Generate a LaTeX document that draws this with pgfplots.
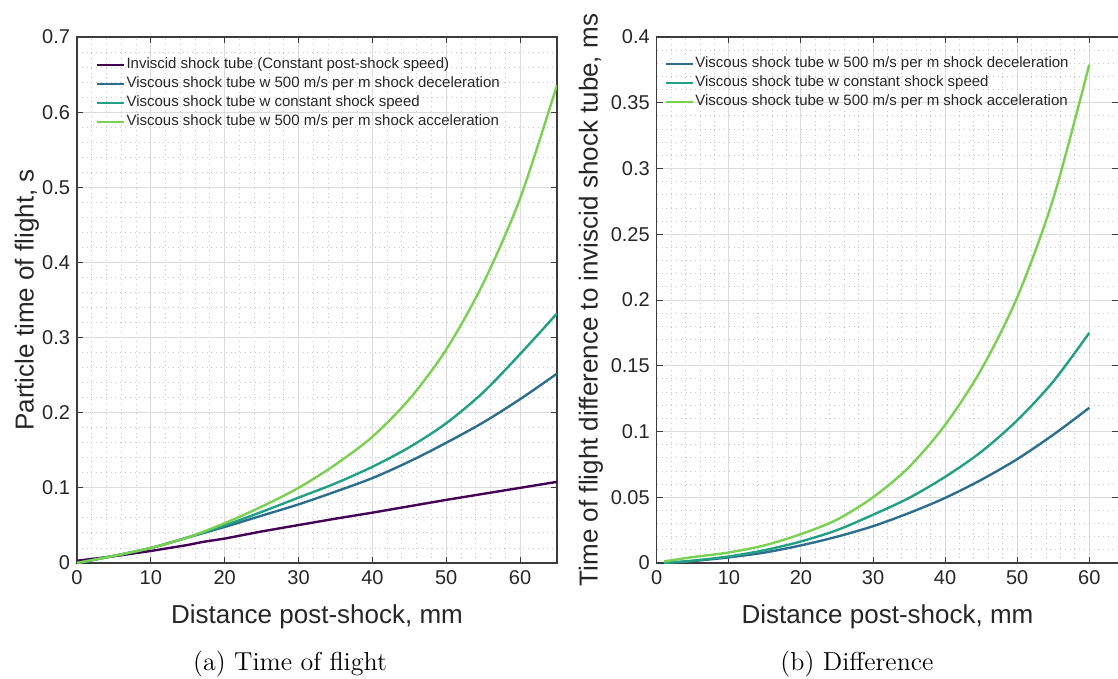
\documentclass[border=0pt]{standalone}
\usepackage{fontspec}
\setsansfont{Liberation Sans}
\usepackage{pgfplots}
\pgfplotsset{compat=1.18}
\definecolor{cInv}{RGB}{68,1,84}
\definecolor{cDec}{RGB}{44,110,142}
\definecolor{cCon}{RGB}{33,160,133}
\definecolor{cAcc}{RGB}{122,209,81}
\definecolor{axgray}{RGB}{60,60,60}
\definecolor{txtgray}{RGB}{38,38,38}
\pgfplotsset{myax/.style={
  scale only axis, ymin=0,
  tick align=inside, major tick length=3pt, minor tick length=0pt,
  grid=both,
  major grid style={draw=black!14, line width=0.5pt},
  minor grid style={draw=black!22, dotted, line width=0.45pt},
  minor x tick num=4, minor y tick num=4,
  axis line style={draw=axgray, line width=0.6pt},
  tick style={draw=axgray, line width=0.5pt},
  ticklabel style={font=\sffamily\fontsize{10}{12}\selectfont, text=txtgray},
  /pgf/number format/assume math mode=true,
  /pgf/number format/fixed,
  scaled ticks=false,
  label style={font=\sffamily\fontsize{13}{15}\selectfont, text=txtgray},
  xlabel style={at={(axis description cs:0.5,0)}, anchor=base, yshift=-30pt},
  legend cell align=left,
  legend style={draw=none, fill=none, inner sep=0pt, anchor=north west,
    font=\sffamily\fontsize{7.5}{9}\selectfont, text=txtgray,
    nodes={inner sep=0.75pt, text height=6pt, text depth=2pt}, row sep=0pt},
  legend image code/.code={\draw[#1] (0pt,0pt) -- (13.5pt,0pt);},
  every axis plot/.append style={line width=1.2pt},
}}
\begin{document}
\begin{tikzpicture}
\useasboundingbox (0pt,0pt) rectangle (559pt,-339.5pt);
\begin{axis}[myax, at={(38.5pt,-281.5pt)}, anchor=south west,
  width=240pt, height=263pt, xmin=0, xmax=65, ymax=0.7,
  xtick={0,10,...,60}, ytick={0,0.1,...,0.7},
  yticklabels={0,0.1,0.2,0.3,0.4,0.5,0.6,0.7},
  xlabel={Distance post-shock, mm}, ylabel={Particle time of flight, s},
  ylabel style={at={(axis description cs:0,0.5)}, anchor=center, yshift=25pt},
  legend style={at={(axis description cs:0.038,0.966)}}]
\addplot[cInv] coordinates {(0,0.003) (2.5,0.006) (5,0.009) (7.5,0.0125) (10,0.016) (12.5,0.020) (15,0.024) (17,0.028) (20,0.0325) (25,0.042) (30,0.0505) (35,0.059) (40,0.067) (45,0.0755) (50,0.084) (55,0.092) (60,0.100) (65,0.108)};
\addlegendentry{Inviscid shock tube (Constant post-shock speed)}
\addplot[cDec, smooth] coordinates {(0,0) (5,0.0095) (10,0.020) (15,0.034) (20,0.048) (25,0.063) (30,0.078) (35,0.095) (40,0.113) (45,0.135) (50,0.160) (55,0.187) (60,0.218) (65,0.252)};
\addlegendentry{Viscous shock tube w 500 m/s per m shock deceleration}
\addplot[cCon, smooth] coordinates {(0,0) (5,0.0095) (10,0.020) (15,0.034) (20,0.050) (25,0.068) (30,0.087) (35,0.106) (40,0.128) (45,0.154) (50,0.186) (55,0.227) (60,0.278) (65,0.332)};
\addlegendentry{Viscous shock tube w constant shock speed}
\addplot[cAcc, smooth] coordinates {(0,0) (5,0.0095) (10,0.020) (15,0.034) (20,0.053) (25,0.075) (30,0.100) (35,0.131) (40,0.168) (45,0.218) (50,0.284) (55,0.372) (60,0.485) (65,0.636)};
\addlegendentry{Viscous shock tube w 500 m/s per m shock acceleration}
\end{axis}
\begin{axis}[myax, at={(328.4pt,-281.5pt)}, anchor=south west,
  width=230.65pt, height=263pt, xmin=0, xmax=64, ymax=0.4,
  xtick={0,10,...,60}, ytick={0,0.05,...,0.4},
  yticklabels={0,0.05,0.1,0.15,0.2,0.25,0.3,0.35,0.4},
  xlabel={Distance post-shock, mm}, ylabel={Time of flight difference to inviscid shock tube, ms},
  ylabel style={at={(axis description cs:0,0.5)}, anchor=center, yshift=33pt},
  legend style={at={(axis description cs:0.0157,0.968)}}]
\addplot[cDec, smooth] coordinates {(1,0) (5,0.0015) (10,0.0043) (15,0.008) (20,0.0134) (25,0.020) (30,0.028) (35,0.038) (40,0.0495) (45,0.0632) (50,0.0790) (55,0.0975) (60,0.118)};
\addlegendentry{Viscous shock tube w 500 m/s per m shock deceleration}
\addplot[cCon, smooth] coordinates {(1,0) (5,0.0018) (10,0.005) (15,0.0098) (20,0.0164) (25,0.025) (30,0.0367) (35,0.0495) (40,0.0655) (45,0.0845) (50,0.1085) (55,0.138) (60,0.175)};
\addlegendentry{Viscous shock tube w constant shock speed}
\addplot[cAcc, smooth] coordinates {(1,0.0012) (5,0.0045) (10,0.008) (15,0.0135) (20,0.022) (25,0.033) (30,0.050) (35,0.073) (40,0.105) (45,0.147) (50,0.202) (55,0.277) (60,0.379)};
\addlegendentry{Viscous shock tube w 500 m/s per m shock acceleration}
\end{axis}
\node[font=\rmfamily\fontsize{13}{15}\selectfont, anchor=base] at (145pt,-335pt) {(a) Time of flight};
\node[font=\rmfamily\fontsize{13}{15}\selectfont, anchor=base] at (428.5pt,-335pt) {(b) Difference};
\end{tikzpicture}
\end{document}
